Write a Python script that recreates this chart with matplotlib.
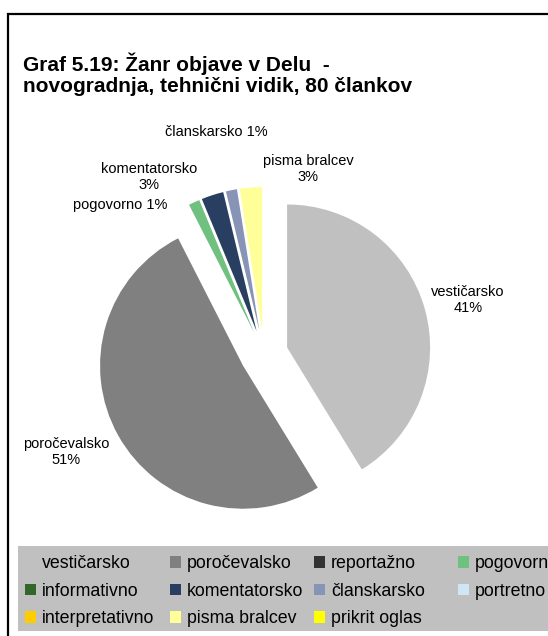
import matplotlib
matplotlib.use("Agg")
import matplotlib.pyplot as plt
from matplotlib.patches import Rectangle

plt.rcParams['font.family'] = ['Liberation Sans', 'DejaVu Sans']

# data: genre of articles, 80 articles in total
genres = ["vestičarsko", "poročevalsko", "reportažno", "pogovorno", "informativno",
          "komentatorsko", "članskarsko", "portretno", "interpretativno",
          "pisma bralcev", "prikrit oglas"]
counts = [33, 41, 0, 1, 0, 2, 1, 0, 0, 2, 0]
colors = ["#C0C0C0", "#808080", "#333333", "#70C080", "#336629",
          "#283F62", "#8894B6", "#CFE6F5", "#FFCC00", "#FFFF99", "#FFFF00"]

title = "Graf 5.19: Žanr objave v Delu  -\nnovogradnja, tehnični vidik, 80 člankov"

total = sum(counts)
pcts = [int(c * 100 / total + 0.5) for c in counts]

# label positions (pixels from top-left) and whether name / value go on one line
label_pos = {
    "vestičarsko": (468, 300, "\n"),
    "poročevalsko": (66, 452, "\n"),
    "pogovorno": (120, 205, " "),
    "komentatorsko": (149, 177, "\n"),
    "članskarsko": (216, 132, " "),
    "pisma bralcev": (308, 169, "\n"),
}

W, H = 548, 636
fig = plt.figure(figsize=(W / 100, H / 100), dpi=100)
ax = fig.add_axes([0, 0, 1, 1])

# outer frame of the chart area
fig.patches.append(Rectangle((8 / W, -0.1), 1.2, (H - 14) / H + 0.1,
                             transform=fig.transFigure, fill=False,
                             edgecolor="black", linewidth=1.6))

r = 143
wedges, _ = ax.pie(counts, colors=colors, startangle=90, counterclock=False,
                   radius=r, center=(264, H - 354), explode=[24] * len(counts),
                   wedgeprops=dict(linewidth=0))
ax.set_xlim(0, W)
ax.set_ylim(0, H)
ax.set_aspect("equal")
ax.axis("off")

for name, c, p in zip(genres, counts, pcts):
    if c == 0:
        continue
    x, y, sep = label_pos[name]
    ax.text(x, H - y, f"{name}{sep}{p}%", ha="center", va="center",
            fontsize=10.5, linespacing=1.25)

fig.text(23 / W, 1 - 74 / H, title, ha="left", va="center", fontsize=15,
         fontweight="bold", linespacing=1.1)

# legend background
fig.patches.append(Rectangle((18 / W, 1 - 631 / H), 1, 85 / H,
                             transform=fig.transFigure, facecolor="#C0C0C0",
                             edgecolor="none", zorder=0))

col_x = [25, 170, 314, 458]
for c in range(4):
    idx = list(range(c, len(genres), 4))
    fig.legend([wedges[i] for i in idx], [genres[i] for i in idx],
               loc="upper left", bbox_to_anchor=(col_x[c] / W, 1 - 555 / H),
               frameon=False, fontsize=12.8, borderpad=0, borderaxespad=0,
               handlelength=0.62, handleheight=0.62, handletextpad=0.35,
               labelspacing=0.6)

fig.savefig("out.png", dpi=100)
